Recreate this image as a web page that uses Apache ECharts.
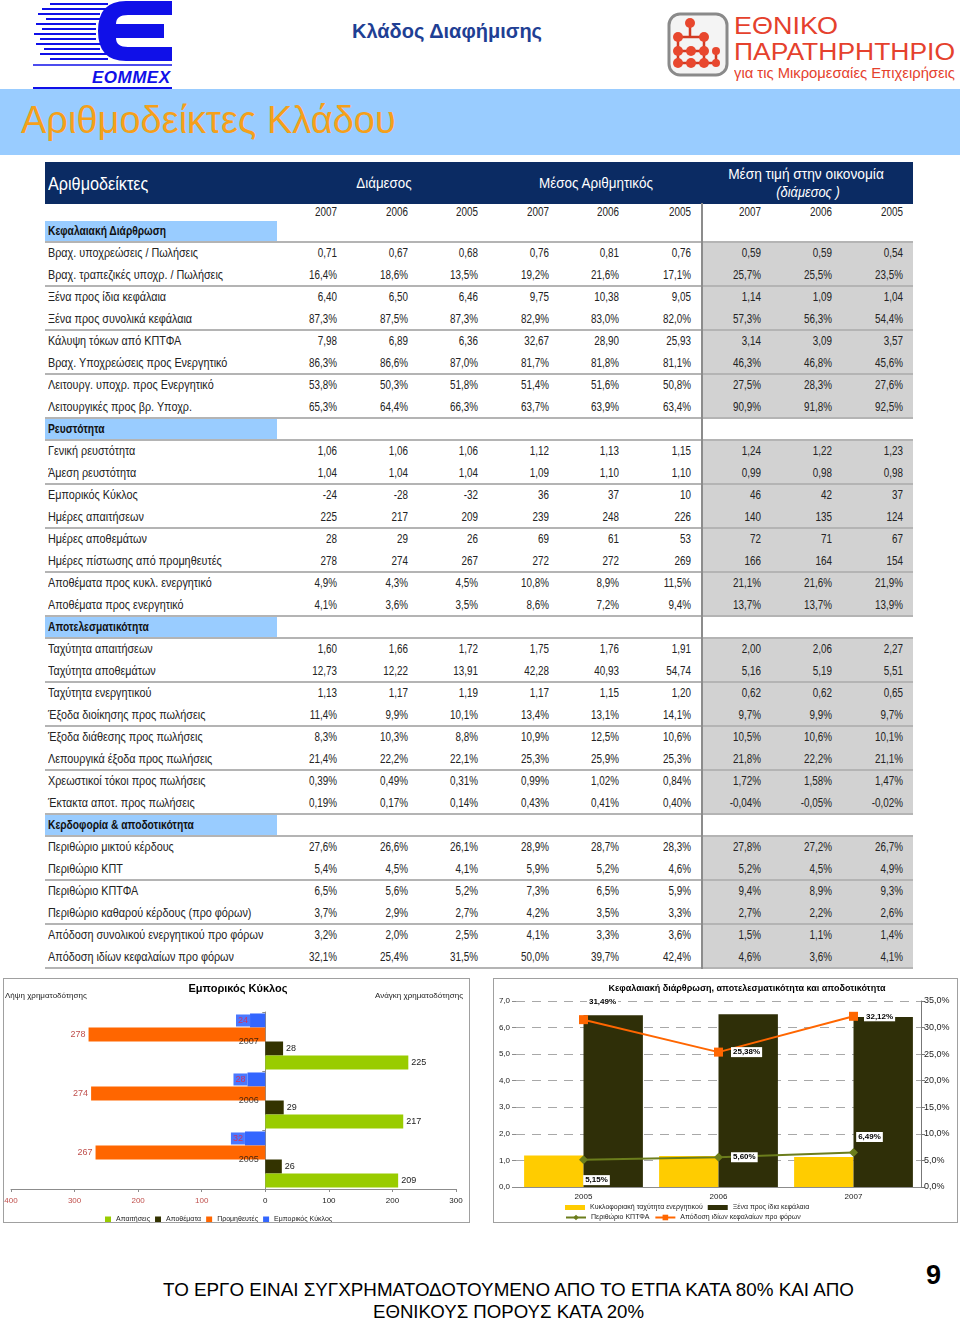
<!DOCTYPE html>
<html><head><meta charset="utf-8">
<script src="https://cdn.jsdelivr.net/npm/echarts/dist/echarts.min.js"></script>
<style>
body{margin:0;background:#fff;}
#page{position:relative;width:960px;height:1322px;overflow:hidden;font-family:"Liberation Sans",Arial,sans-serif;color:#222;}
.abs{position:absolute;white-space:nowrap;}
.ol{transform-origin:left center;}
.or{transform-origin:right center;}
.oc{transform-origin:center center;}
.chartbox{position:absolute;border:1px solid #a0a0a0;box-sizing:border-box;background:#fff;}
</style></head><body><div id="page">

<svg class="abs" style="left:30px;top:0px" width="150" height="92">
  <g stroke="#1010e8" stroke-width="2.2">
    <line x1="20" y1="4" x2="78" y2="4"/><line x1="12" y1="9" x2="78" y2="9"/>
    <line x1="8" y1="14" x2="70" y2="14"/><line x1="16" y1="19" x2="70" y2="19"/>
    <line x1="6" y1="24" x2="66" y2="24"/><line x1="12" y1="29" x2="66" y2="29"/>
    <line x1="4" y1="34" x2="66" y2="34"/><line x1="10" y1="39" x2="66" y2="39"/>
    <line x1="6" y1="44" x2="70" y2="44"/><line x1="14" y1="49" x2="70" y2="49"/>
    <line x1="10" y1="54" x2="78" y2="54"/><line x1="20" y1="59" x2="78" y2="59"/>
  </g>
  <path d="M142 1 H96 Q68 1 68 31 Q68 61 96 61 H142 V47 H98 Q86 47 86 38 H134 V24 H86 Q86 15 98 15 H142 Z" fill="#1010e8"/>
  <line x1="3" y1="65" x2="142" y2="65" stroke="#1010e8" stroke-width="1.5"/>
  <text x="62" y="83" font-family="Liberation Sans, Arial" font-style="italic" font-weight="bold" font-size="17" fill="#1010e8" textLength="78">ΕΟΜΜΕΧ</text>
  <line x1="3" y1="88" x2="142" y2="88" stroke="#1010e8" stroke-width="2"/>
</svg>

<div class="abs" style="left:352px;top:19px;font-size:20px;font-weight:bold;color:#1f3f94;line-height:24px;">Κλάδος Διαφήμισης</div>

<svg class="abs" style="left:664px;top:9px" width="70" height="72">
  <rect x="5" y="5" width="58" height="61" rx="11" fill="#f4f4f4" stroke="#8a8a8a" stroke-width="3"/>
  <g stroke="#d23a22" stroke-width="2.5">
    <line x1="26" y1="14" x2="26" y2="28"/><line x1="14" y1="28" x2="40" y2="28"/>
    <line x1="14" y1="28" x2="14" y2="54"/><line x1="14" y1="42" x2="40" y2="42"/>
    <line x1="40" y1="28" x2="40" y2="54"/><line x1="14" y1="54" x2="52" y2="54"/>
    <line x1="52" y1="42" x2="52" y2="54"/>
  </g>
  <g fill="#e8472e">
    <circle cx="26" cy="14" r="5"/><circle cx="14" cy="28" r="5"/><circle cx="40" cy="28" r="5"/>
    <circle cx="14" cy="42" r="5"/><circle cx="27" cy="42" r="5"/><circle cx="40" cy="42" r="5"/>
    <circle cx="52" cy="42" r="4"/><circle cx="14" cy="54" r="5"/><circle cx="27" cy="54" r="5"/>
    <circle cx="40" cy="54" r="5"/><circle cx="52" cy="54" r="4"/>
  </g>
</svg>
<div class="abs fit" data-w="104" data-x="734" style="top:12.5px;font-size:23px;color:#e5412d;line-height:26px;">ΕΘΝΙΚΟ</div>
<div class="abs fit" data-w="221" data-x="734" style="top:38.5px;font-size:23px;color:#e5412d;line-height:26px;">ΠΑΡΑΤΗΡΗΤΗΡΙΟ</div>
<div class="abs fit" data-w="221" data-x="734" style="top:64.5px;font-size:14px;color:#e5412d;line-height:16px;">για τις Μικρομεσαίες Επιχειρήσεις</div>

<div class="abs" style="left:0;top:89px;width:960px;height:66px;background:#99ccff;"></div>
<div class="abs" style="left:21px;top:98px;font-size:38px;color:#f5a01a;line-height:44px;">Αριθμοδείκτες Κλάδου</div>

<div class="abs" style="left:45px;top:162px;width:868px;height:42px;background:#0b2b63;"></div>
<div class="abs ol" style="left:48px;top:173px;font-size:18px;color:#fff;line-height:22px;transform:scaleX(0.9);">Αριθμοδείκτες</div>
<div class="abs oc" style="left:304px;width:160px;text-align:center;top:174px;font-size:14.5px;color:#fff;line-height:18px;transform:scaleX(0.92);">Διάμεσος</div>
<div class="abs oc" style="left:516px;width:160px;text-align:center;top:174px;font-size:14.5px;color:#fff;line-height:18px;transform:scaleX(0.93);">Μέσος Αριθμητικός</div>
<div class="abs oc" style="left:706px;width:200px;text-align:center;top:165px;font-size:14.5px;color:#fff;line-height:18px;transform:scaleX(0.945);">Μέση τιμή στην οικονομία</div>
<div class="abs oc" style="left:706px;width:204px;text-align:center;top:183px;font-size:14.5px;color:#fff;line-height:18px;font-style:italic;transform:scaleX(0.89);">(διάμεσος )</div>

<div id="tbl"></div>

<div id="c1" class="chartbox" style="left:3px;top:978px;width:467px;height:245px;"></div>
<div id="c2" class="chartbox" style="left:493px;top:978px;width:465px;height:245px;"></div>

<div class="abs fit" data-w="691" data-cx="508" style="top:1279.2px;font-size:19px;line-height:21.4px;color:#000;">ΤΟ ΕΡΓΟ ΕΙΝΑΙ ΣΥΓΧΡΗΜΑΤΟΔΟΤΟΥΜΕΝΟ ΑΠΟ ΤΟ ΕΤΠΑ ΚΑΤΑ 80% ΚΑΙ ΑΠΟ</div>
<div class="abs fit" data-w="271" data-cx="508" style="top:1300.5px;font-size:19px;line-height:21.4px;color:#000;">ΕΘΝΙΚΟΥΣ ΠΟΡΟΥΣ ΚΑΤΑ 20%</div>
<div class="abs" style="left:926px;top:1260px;font-size:27px;font-weight:bold;color:#000;line-height:30px;">9</div>

</div>
<script>
// ---------- table data ----------
const yearLabels = ['2007','2006','2005','2007','2006','2005','2007','2006','2005'];
const capitalTitle = 'Κεφαλαιακή Διάρθρωση';
const capitalRows = [
 ['Βραχ. υποχρεώσεις / Πωλήσεις','0,71','0,67','0,68','0,76','0,81','0,76','0,59','0,59','0,54'],
 ['Βραχ. τραπεζικές υποχρ. / Πωλήσεις','16,4%','18,6%','13,5%','19,2%','21,6%','17,1%','25,7%','25,5%','23,5%'],
 ['Ξένα προς ίδια κεφάλαια','6,40','6,50','6,46','9,75','10,38','9,05','1,14','1,09','1,04'],
 ['Ξένα προς συνολικά κεφάλαια','87,3%','87,5%','87,3%','82,9%','83,0%','82,0%','57,3%','56,3%','54,4%'],
 ['Κάλυψη τόκων από ΚΠΤΦΑ','7,98','6,89','6,36','32,67','28,90','25,93','3,14','3,09','3,57'],
 ['Βραχ. Υποχρεώσεις προς Ενεργητικό','86,3%','86,6%','87,0%','81,7%','81,8%','81,1%','46,3%','46,8%','45,6%'],
 ['Λειτουργ. υποχρ. προς Ενεργητικό','53,8%','50,3%','51,8%','51,4%','51,6%','50,8%','27,5%','28,3%','27,6%'],
 ['Λειτουργικές προς βρ. Υποχρ.','65,3%','64,4%','66,3%','63,7%','63,9%','63,4%','90,9%','91,8%','92,5%']
];
const liquidityTitle = 'Ρευστότητα';
const liquidityRows = [
 ['Γενική ρευστότητα','1,06','1,06','1,06','1,12','1,13','1,15','1,24','1,22','1,23'],
 ['Άμεση ρευστότητα','1,04','1,04','1,04','1,09','1,10','1,10','0,99','0,98','0,98'],
 ['Εμπορικός Κύκλος','-24','-28','-32','36','37','10','46','42','37'],
 ['Ημέρες απαιτήσεων','225','217','209','239','248','226','140','135','124'],
 ['Ημέρες αποθεμάτων','28','29','26','69','61','53','72','71','67'],
 ['Ημέρες πίστωσης από προμηθευτές','278','274','267','272','272','269','166','164','154'],
 ['Αποθέματα προς κυκλ. ενεργητικό','4,9%','4,3%','4,5%','10,8%','8,9%','11,5%','21,1%','21,6%','21,9%'],
 ['Αποθέματα προς ενεργητικό','4,1%','3,6%','3,5%','8,6%','7,2%','9,4%','13,7%','13,7%','13,9%']
];
const efficiencyTitle = 'Αποτελεσματικότητα';
const efficiencyRows = [
 ['Ταχύτητα απαιτήσεων','1,60','1,66','1,72','1,75','1,76','1,91','2,00','2,06','2,27'],
 ['Ταχύτητα αποθεμάτων','12,73','12,22','13,91','42,28','40,93','54,74','5,16','5,19','5,51'],
 ['Ταχύτητα ενεργητικού','1,13','1,17','1,19','1,17','1,15','1,20','0,62','0,62','0,65'],
 ['Έξοδα διοίκησης προς πωλήσεις','11,4%','9,9%','10,1%','13,4%','13,1%','14,1%','9,7%','9,9%','9,7%'],
 ['Έξοδα διάθεσης προς πωλήσεις','8,3%','10,3%','8,8%','10,9%','12,5%','10,6%','10,5%','10,6%','10,1%'],
 ['Λεπουργικά έξοδα προς πωλήσεις','21,4%','22,2%','22,1%','25,3%','25,9%','25,3%','21,8%','22,2%','21,1%'],
 ['Χρεωστικοί τόκοι προς πωλήσεις','0,39%','0,49%','0,31%','0,99%','1,02%','0,84%','1,72%','1,58%','1,47%'],
 ['Έκτακτα αποτ. προς πωλήσεις','0,19%','0,17%','0,14%','0,43%','0,41%','0,40%','-0,04%','-0,05%','-0,02%']
];
const profitTitle = 'Κερδοφορία & αποδοτικότητα';
const profitRows = [
 ['Περιθώριο μικτού κέρδους','27,6%','26,6%','26,1%','28,9%','28,7%','28,3%','27,8%','27,2%','26,7%'],
 ['Περιθώριο ΚΠΤ','5,4%','4,5%','4,1%','5,9%','5,2%','4,6%','5,2%','4,5%','4,9%'],
 ['Περιθώριο ΚΠΤΦΑ','6,5%','5,6%','5,2%','7,3%','6,5%','5,9%','9,4%','8,9%','9,3%'],
 ['Περιθώριο καθαρού κέρδους (προ φόρων)','3,7%','2,9%','2,7%','4,2%','3,5%','3,3%','2,7%','2,2%','2,6%'],
 ['Απόδοση συνολικού ενεργητικού προ φόρων','3,2%','2,0%','2,5%','4,1%','3,3%','3,6%','1,5%','1,1%','1,4%'],
 ['Απόδοση ιδίων κεφαλαίων προ φόρων','32,1%','25,4%','31,5%','50,0%','39,7%','42,4%','4,6%','3,6%','4,1%']
];

// ---------- chart data ----------
const cycleYears = ['2005','2006','2007'];
const receivableDays = [209, 217, 225];
const inventoryDays = [26, 29, 28];
const supplierDays = [-267, -274, -278];
const tradeCycleDays = [-32, -28, -24];
const cycleTicks = [-400, -300, -200, -100, 0, 100, 200, 300];

const capYears = ['2005','2006','2007'];
const assetTurnover = [1.19, 1.17, 1.13];
const debtToEquity = [6.46, 6.50, 6.40];
const ebitdaMargin = [5.15, 5.60, 6.49];
const roePreTax = [31.49, 25.38, 32.12];

// ---------- build table ----------
(function(){
  const tbl = document.getElementById('tbl');
  const colRight = [337, 408, 478, 549, 619, 691, 761, 832, 903];
  let html = '';
  const txt = (x, yc, s, extra) => `<div class="abs ol" style="left:${x}px;top:${yc-11}px;height:22px;line-height:22px;${extra||''}">${s}</div>`;
  const num = (r, yc, s) => `<div class="abs or" style="left:${r-70}px;width:70px;text-align:right;top:${yc-11}px;line-height:22px;font-size:12px;color:#222;transform:scaleX(0.82);">${s}</div>`;
  yearLabels.forEach((y,i)=>{ html += num(colRight[i], 212, y); });
  html += `<div class="abs" style="left:701px;top:203px;width:2px;height:766px;background:#8c8c8c;z-index:3"></div>`;
  const sections = [[capitalTitle, capitalRows],[liquidityTitle, liquidityRows],[efficiencyTitle, efficiencyRows],[profitTitle, profitRows]];
  let yc = 231;
  sections.forEach(([title, rows])=>{
    html += `<div class="abs" style="left:45px;top:${yc-10}px;width:232px;height:20px;background:#99ccff;"></div>`;
    html += txt(48, yc, title, 'font-size:12.5px;font-weight:bold;color:#111;transform:scaleX(0.82);');
    yc += 22;
    const top = yc - 11;
    html += `<div class="abs" style="left:703px;top:${top}px;width:210px;height:${rows.length*22}px;background:#d2d2d2;"></div>`;
    for (let i=0;i<=rows.length;i+=2){
      html += `<div class="abs" style="left:45px;top:${top+i*22-1}px;width:868px;height:2px;background:#b4b4b4;z-index:2"></div>`;
    }
    rows.forEach(r=>{
      html += txt(48, yc, r[0], 'font-size:12.5px;color:#222;transform:scaleX(0.865);');
      for (let k=1;k<r.length;k++) html += num(colRight[k-1], yc, r[k]);
      yc += 22;
    });
  });
  tbl.innerHTML = html;
  // fit texts to measured widths of the reference
  document.querySelectorAll('.fit').forEach(el=>{
    const target = parseFloat(el.dataset.w);
    const w = el.getBoundingClientRect().width;
    const left = el.dataset.cx !== undefined ? parseFloat(el.dataset.cx) - target/2 : parseFloat(el.dataset.x);
    el.style.left = left + 'px';
    el.style.transformOrigin = 'left center';
    el.style.transform = 'scaleX(' + (target / w) + ')';
  });
})();

const FF = '"Liberation Sans", Arial, sans-serif';
const comma = (v, d) => v.toFixed(d).replace('.', ',');

// ---------- chart 1 : trade cycle ----------
const c1 = echarts.init(document.getElementById('c1'), null, {renderer:'canvas'});
c1.setOption({
  animation:false,
  textStyle:{fontFamily:FF},
  graphic:[
    {type:'text', style:{x:234, y:10, text:'Εμπορικός Κύκλος', textAlign:'center', textVerticalAlign:'middle', font:'bold 11px '+FF, fill:'#000'}},
    {type:'text', style:{x:1, y:17, text:'Λήψη χρηματοδότησης', textAlign:'left', textVerticalAlign:'middle', font:'8px '+FF, fill:'#222'}},
    {type:'text', style:{x:459, y:17, text:'Ανάγκη χρηματοδότησης', textAlign:'right', textVerticalAlign:'middle', font:'8px '+FF, fill:'#222'}}
  ],
  grid:{left:7, right:13, top:33, bottom:33, containLabel:false, outerBoundsMode:'none'},
  legend:{
    left:96, top:232, itemWidth:6, itemHeight:6, itemGap:5, icon:'rect',
    textStyle:{fontSize:7, color:'#222', width:55},
    data:['Απαιτήσεις','Αποθέματα','Προμηθευτές','Εμπορικός Κύκλος']
  },
  xAxis:{
    type:'value', min:cycleTicks[0], max:cycleTicks[cycleTicks.length-1], interval:100,
    axisLine:{show:true, onZero:false, lineStyle:{color:'#8c8c8c'}},
    axisTick:{show:true, length:3, lineStyle:{color:'#8c8c8c'}},
    splitLine:{show:false},
    axisLabel:{fontSize:8, color:'#222', margin:8,
      formatter:v => v < 0 ? '{r|' + (-v) + '}' : String(v),
      rich:{r:{color:'#c0504d', fontSize:8}}}
  },
  yAxis:{
    type:'category', data:cycleYears,
    axisLine:{show:true, onZero:true, lineStyle:{color:'#8c8c8c'}},
    axisTick:{show:true, length:3, lineStyle:{color:'#8c8c8c'}},
    axisLabel:{show:false}
  },
  series:[
    {name:'Εμπορικός Κύκλος', type:'bar', data:tradeCycleDays, barGap:'0%', barCategoryGap:'5%',
     itemStyle:{color:'#3366ff'}, label:{show:true, position:'left', distance:0, fontSize:9, color:'#cc3366',
       backgroundColor:'#4a78ff', padding:[2,2,1,2], formatter:p => Math.abs(p.value)}},
    {name:'Προμηθευτές', type:'bar', data:supplierDays,
     itemStyle:{color:'#ff6600'}, label:{show:true, position:'left', distance:3, fontSize:9, color:'#c0504d', formatter:p => Math.abs(p.value)}},
    {name:'Αποθέματα', type:'bar', data:inventoryDays,
     itemStyle:{color:'#333300'}, label:{show:true, position:'right', distance:3, fontSize:9, color:'#222'}},
    {name:'Απαιτήσεις', type:'bar', data:receivableDays,
     itemStyle:{color:'#99cc00'}, label:{show:true, position:'right', distance:3, fontSize:9, color:'#222'}},
    {type:'scatter', data:cycleYears.map(c => [0, c]), symbolSize:1, itemStyle:{color:'rgba(0,0,0,0)'},
     silent:true, z:20, label:{show:true, position:'left', distance:6, fontSize:9, color:'#111', formatter:p => p.value[1]}}
  ]
});

// ---------- chart 2 : capital structure ----------
const ebitdaLabelPos = [
  {position:'bottom', offset:[13, 6]},
  {position:'right', distance:8},
  {position:'top', offset:[16, -1]}
];
const roeLabelPos = [
  {position:'top', offset:[19, -3]},
  {position:'right', distance:8},
  {position:'right', distance:6}
];
const boxLabel = {show:true, backgroundColor:'#fff', padding:[1,2], fontSize:8, fontWeight:'bold', color:'#000'};
const c2 = echarts.init(document.getElementById('c2'), null, {renderer:'canvas'});
c2.setOption({
  animation:false,
  textStyle:{fontFamily:FF},
  graphic:[
    {type:'text', style:{x:253, y:10, text:'Κεφαλαιακή διάρθρωση, αποτελεσματικότητα και αποδοτικότητα', textAlign:'center', textVerticalAlign:'middle', font:'bold 9px '+FF, fill:'#000'}}
  ],
  grid:{left:22, right:36, top:22, bottom:35, containLabel:false, outerBoundsMode:'none'},
  legend:[
    {left:66, top:220, itemWidth:20, itemHeight:5, itemGap:5, icon:'rect',
     textStyle:{fontSize:7, color:'#222', width:169},
     data:['Κυκλοφοριακή ταχύτητα ενεργητικού','Ξένα προς ίδια κεφάλαια']},
    {left:66, top:230, itemWidth:20, itemHeight:7, itemGap:5,
     textStyle:{fontSize:7, color:'#222', width:169},
     data:['Περιθώριο ΚΠΤΦΑ','Απόδοση ιδίων κεφαλαίων προ φόρων']}
  ],
  xAxis:{
    type:'category', data:capYears,
    axisLine:{show:true, lineStyle:{color:'#8c8c8c'}},
    axisTick:{show:false},
    axisLabel:{fontSize:8, color:'#222', margin:6}
  },
  yAxis:[
    {type:'value', min:0, max:7, interval:1,
     axisLine:{show:false}, axisTick:{show:true, length:4, lineStyle:{color:'#8c8c8c'}},
     axisLabel:{fontSize:8, color:'#222', margin:6, formatter:v => comma(v,1)},
     splitLine:{show:true, lineStyle:{color:'#a8a8a8', type:[9,7], width:1}}},
    {type:'value', min:0, max:35, interval:5, position:'right',
     axisLine:{show:true, lineStyle:{color:'#777'}}, axisTick:{show:true, length:4, lineStyle:{color:'#777'}},
     axisLabel:{fontSize:9, color:'#222', margin:3, formatter:v => comma(v,1) + '%'},
     splitLine:{show:false}}
  ],
  series:[
    {name:'Κυκλοφοριακή ταχύτητα ενεργητικού', type:'bar', data:assetTurnover, barGap:'0%', barCategoryGap:'12%',
     itemStyle:{color:'#ffcc00'}},
    {name:'Ξένα προς ίδια κεφάλαια', type:'bar', data:debtToEquity, itemStyle:{color:'#2f2f08'}},
    {name:'Περιθώριο ΚΠΤΦΑ', type:'line', yAxisIndex:1, symbol:'diamond', symbolSize:9,
     lineStyle:{color:'#6b7d1c', width:2}, itemStyle:{color:'#6b7d1c'}, z:5,
     data:ebitdaMargin.map((v,i)=>({value:v, label:Object.assign({}, boxLabel, ebitdaLabelPos[i], {formatter:comma(v,2)+'%'})}))},
    {name:'Απόδοση ιδίων κεφαλαίων προ φόρων', type:'line', yAxisIndex:1, symbol:'rect', symbolSize:9,
     lineStyle:{color:'#ff6600', width:2}, itemStyle:{color:'#ff6600'}, z:5,
     data:roePreTax.map((v,i)=>({value:v, label:Object.assign({}, boxLabel, roeLabelPos[i], {formatter:comma(v,2)+'%'})}))}
  ]
});
</script>
</body></html>
